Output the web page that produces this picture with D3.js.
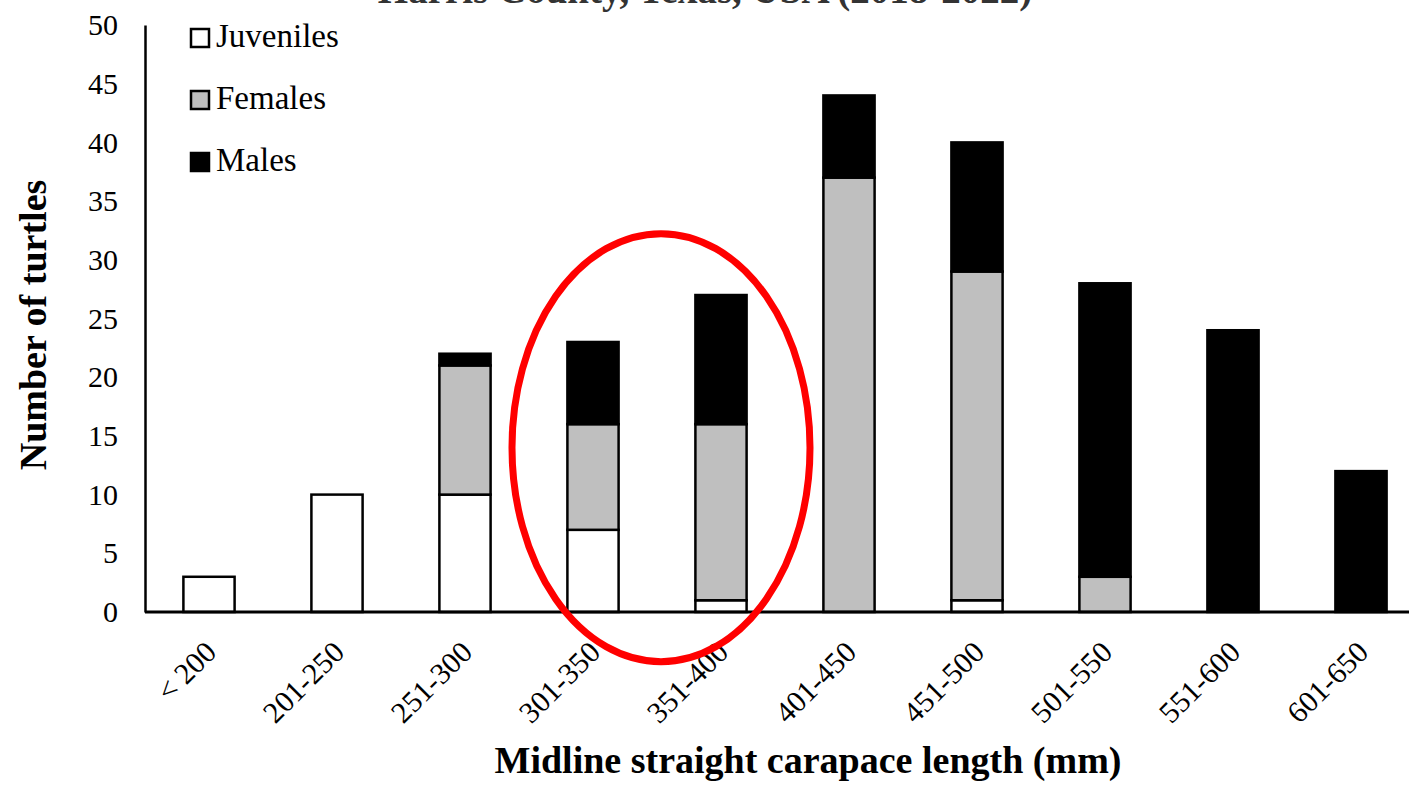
<!DOCTYPE html>
<html>
<head>
<meta charset="utf-8">
<script src="https://cdn.jsdelivr.net/npm/d3@7"></script>
<style>
  body { margin: 0; background: #fff; }
  svg text { font-family: "Liberation Serif", "Times New Roman", serif; fill: #000; }
</style>
</head>
<body>
<div id="chart"></div>
<script>
// size classes (mm) and counts per group
var categories = ["< 200", "201-250", "251-300", "301-350", "351-400", "401-450", "451-500", "501-550", "551-600", "601-650"];
var juveniles = [3, 10, 10, 7, 1, 0, 1, 0, 0, 0];
var females   = [0, 0, 11, 9, 15, 37, 28, 3, 0, 0];
var males     = [0, 0, 1, 7, 11, 7, 11, 25, 24, 12];
var groups = ["Juveniles", "Females", "Males"];
var colors = ["#ffffff", "#bfbfbf", "#000000"];
var yTicks = [0, 5, 10, 15, 20, 25, 30, 35, 40, 45, 50];
var highlighted = ["301-350", "351-400"];

var width = 1409, height = 787;
var svg = d3.select("#chart").append("svg")
    .attr("width", width)
    .attr("height", height);

var rows = categories.map(function (c, i) {
    return { cat: c, Juveniles: juveniles[i], Females: females[i], Males: males[i] };
});

var x = d3.scaleBand()
    .domain(categories)
    .range([145, 1425])
    .paddingInner(0.6)
    .paddingOuter(0.3);

var y = d3.scaleLinear()
    .domain([0, 50])
    .range([612, 25]);

var stack = d3.stack().keys(groups)(rows);

// title (cut off at the top in the original)
svg.append("text")
    .attr("x", 705)
    .attr("y", 3)
    .attr("text-anchor", "middle")
    .style("font-size", "39px")
    .style("font-weight", "bold")
    .style("fill", "#333")
    .text("Harris County, Texas, USA (2018-2022)");

// stacked bars
svg.selectAll("g.layer")
    .data(stack)
    .enter()
    .append("g")
    .attr("class", "layer")
    .attr("fill", function (d, i) { return colors[i]; })
    .selectAll("rect")
    .data(function (d) { return d.filter(function (s) { return s[1] - s[0] > 0; }); })
    .enter()
    .append("rect")
    .attr("x", function (d) { return x(d.data.cat); })
    .attr("y", function (d) { return y(d[1]); })
    .attr("width", x.bandwidth())
    .attr("height", function (d) { return y(d[0]) - y(d[1]); })
    .attr("stroke", "#000")
    .attr("stroke-width", 2.5);

// y axis
var yAxis = svg.append("g")
    .attr("transform", "translate(145,0)")
    .call(d3.axisLeft(y).tickValues(yTicks).tickSize(0).tickPadding(27));
yAxis.select(".domain").attr("stroke", "#000").attr("stroke-width", 2.5);
yAxis.selectAll("text")
    .style("font-size", "30px")
    .style("font-family", "Liberation Serif, serif");

// x axis
var xAxis = svg.append("g")
    .attr("transform", "translate(0,612)")
    .call(d3.axisBottom(x).tickSize(0).tickPadding(0));
xAxis.select(".domain").attr("stroke", "#000").attr("stroke-width", 3).attr("d", "M145,0H1409");
xAxis.selectAll("text")
    .style("font-size", "30px")
    .style("font-family", "Liberation Serif, serif")
    .attr("text-anchor", "end")
    .attr("dy", 0)
    .attr("transform", "translate(9,42) rotate(-45)");

// axis titles
svg.append("text")
    .attr("transform", "translate(46,325) rotate(-90)")
    .attr("text-anchor", "middle")
    .style("font-size", "38px")
    .style("font-weight", "bold")
    .text("Number of turtles");

svg.append("text")
    .attr("x", 808)
    .attr("y", 773)
    .attr("text-anchor", "middle")
    .style("font-size", "38px")
    .style("font-weight", "bold")
    .text("Midline straight carapace length (mm)");

// legend
var legend = svg.append("g").attr("transform", "translate(191,29)");
var item = legend.selectAll("g")
    .data(groups)
    .enter()
    .append("g")
    .attr("transform", function (d, i) { return "translate(0," + (i * 62) + ")"; });
item.append("rect")
    .attr("width", 18)
    .attr("height", 18)
    .attr("fill", function (d, i) { return colors[i]; })
    .attr("stroke", "#000")
    .attr("stroke-width", 2.5);
item.append("text")
    .attr("x", 25)
    .attr("y", 18)
    .style("font-size", "33px")
    .text(function (d) { return d; });

// red ellipse annotation around the highlighted classes
var cx = (x(highlighted[0]) + x(highlighted[1]) + x.bandwidth()) / 2 + 4;
svg.append("ellipse")
    .attr("cx", cx)
    .attr("cy", y(14))
    .attr("rx", 149)
    .attr("ry", 214)
    .attr("fill", "none")
    .attr("stroke", "#ff0000")
    .attr("stroke-width", 7);
</script>
</body>
</html>
